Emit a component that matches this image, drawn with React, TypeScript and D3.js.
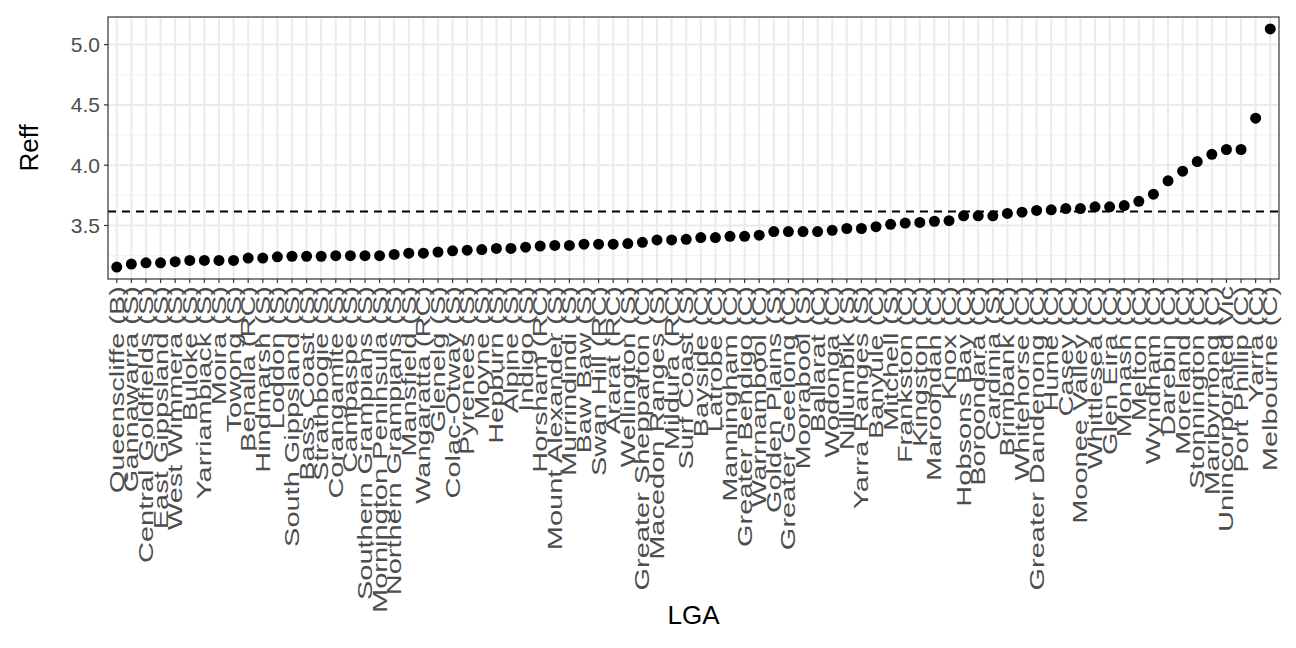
import React, { useRef, useEffect } from "react";
import * as d3 from "d3";

const lgas = [
  "Queenscliffe (B)", "Gannawarra (S)", "Central Goldfields (S)", "East Gippsland (S)",
  "West Wimmera (S)", "Buloke (S)", "Yarriambiack (S)", "Moira (S)", "Towong (S)",
  "Benalla (RC)", "Hindmarsh (S)", "Loddon (S)", "South Gippsland (S)", "Bass Coast (S)",
  "Strathbogie (S)", "Corangamite (S)", "Campaspe (S)", "Southern Grampians (S)",
  "Mornington Peninsula (S)", "Northern Grampians (S)", "Mansfield (S)", "Wangaratta (RC)",
  "Glenelg (S)", "Colac-Otway (S)", "Pyrenees (S)", "Moyne (S)", "Hepburn (S)",
  "Alpine (S)", "Indigo (S)", "Horsham (RC)", "Mount Alexander (S)", "Murrindindi (S)",
  "Baw Baw (S)", "Swan Hill (RC)", "Ararat (RC)", "Wellington (S)",
  "Greater Shepparton (C)", "Macedon Ranges (S)", "Mildura (RC)", "Surf Coast (S)",
  "Bayside (C)", "Latrobe (C)", "Manningham (C)", "Greater Bendigo (C)",
  "Warrnambool (C)", "Golden Plains (S)", "Greater Geelong (C)", "Moorabool (S)",
  "Ballarat (C)", "Wodonga (C)", "Nillumbik (S)", "Yarra Ranges (S)", "Banyule (C)",
  "Mitchell (S)", "Frankston (C)", "Kingston (C)", "Maroondah (C)", "Knox (C)",
  "Hobsons Bay (C)", "Boroondara (C)", "Cardinia (S)", "Brimbank (C)", "Whitehorse (C)",
  "Greater Dandenong (C)", "Hume (C)", "Casey (C)", "Moonee Valley (C)",
  "Whittlesea (C)", "Glen Eira (C)", "Monash (C)", "Melton (C)", "Wyndham (C)",
  "Darebin (C)", "Moreland (C)", "Stonnington (C)", "Maribyrnong (C)",
  "Unincorporated Vic", "Port Phillip (C)", "Yarra (C)", "Melbourne (C)",
];

const reff = [
  3.155, 3.18, 3.19, 3.19, 3.2, 3.21, 3.21, 3.21, 3.21, 3.23,
  3.23, 3.24, 3.245, 3.245, 3.245, 3.25, 3.25, 3.25, 3.25, 3.26,
  3.27, 3.27, 3.28, 3.29, 3.295, 3.3, 3.31, 3.31, 3.32, 3.33,
  3.335, 3.335, 3.345, 3.345, 3.345, 3.35, 3.36, 3.38, 3.38, 3.385,
  3.4, 3.4, 3.41, 3.41, 3.42, 3.45, 3.45, 3.45, 3.45, 3.46,
  3.475, 3.475, 3.49, 3.51, 3.52, 3.525, 3.535, 3.54, 3.58, 3.58,
  3.58, 3.6, 3.61, 3.625, 3.63, 3.64, 3.64, 3.655, 3.655, 3.665,
  3.7, 3.76, 3.87, 3.95, 4.03, 4.09, 4.13, 4.13, 4.39, 5.13,
];

const yTicks = [3.5, 4.0, 4.5, 5.0];
const yMinor = [3.25, 3.75, 4.25, 4.75];
const refLine = 3.615;

const App: React.FC = () => {
  const ref = useRef<SVGSVGElement | null>(null);

  useEffect(() => {
    const svg = d3.select(ref.current);
    svg.selectAll("*").remove();
    const width = 1296;
    const height = 648;
    const left = 108, right = 1279, top = 17, bottom = 279;
    const font = "Liberation Sans, Arial, sans-serif";

    const n = lgas.length;
    const x = d3.scaleLinear().domain([0.4, n + 0.6]).range([left, right]);
    const [lo, hi] = d3.extent(reff) as [number, number];
    const pad = (hi - lo) * 0.05;
    const y = d3.scaleLinear().domain([lo - pad, hi + pad]).range([bottom, top]);

    svg.attr("width", width).attr("height", height);
    svg.append("rect").attr("width", width).attr("height", height).attr("fill", "white");

    const grid = svg.append("g");
    grid.selectAll("line.ym").data(yMinor).enter().append("line")
      .attr("x1", left).attr("x2", right)
      .attr("y1", (d) => y(d)).attr("y2", (d) => y(d))
      .attr("stroke", "#f2f2f2").attr("stroke-width", 1);
    grid.selectAll("line.y").data(yTicks).enter().append("line")
      .attr("x1", left).attr("x2", right)
      .attr("y1", (d) => y(d)).attr("y2", (d) => y(d))
      .attr("stroke", "#ebebeb").attr("stroke-width", 2);
    grid.selectAll("line.x").data(lgas).enter().append("line")
      .attr("x1", (_, i) => x(i + 1)).attr("x2", (_, i) => x(i + 1))
      .attr("y1", top).attr("y2", bottom)
      .attr("stroke", "#ebebeb").attr("stroke-width", 2);

    svg.append("line")
      .attr("x1", left).attr("x2", right)
      .attr("y1", y(refLine)).attr("y2", y(refLine))
      .attr("stroke", "black").attr("stroke-width", 2)
      .attr("stroke-dasharray", "8,6");

    svg.append("g").selectAll("circle").data(reff).enter().append("circle")
      .attr("cx", (_, i) => x(i + 1)).attr("cy", (d) => y(d))
      .attr("r", 5.5).attr("fill", "black");

    svg.append("rect")
      .attr("x", left).attr("y", top)
      .attr("width", right - left).attr("height", bottom - top)
      .attr("fill", "none").attr("stroke", "#333333").attr("stroke-width", 1.2);

    // y axis
    const ya = svg.append("g");
    ya.selectAll("line").data(yTicks).enter().append("line")
      .attr("x1", left - 4).attr("x2", left)
      .attr("y1", (d) => y(d)).attr("y2", (d) => y(d))
      .attr("stroke", "#333333").attr("stroke-width", 1.2);
    ya.selectAll("text").data(yTicks).enter().append("text")
      .attr("x", left - 8).attr("y", (d) => y(d))
      .attr("dy", "0.35em").attr("text-anchor", "end")
      .attr("font-family", font).attr("font-size", 21).attr("fill", "#4d4d4d")
      .text((d) => d.toFixed(1));

    // x axis
    const xa = svg.append("g");
    xa.selectAll("line").data(lgas).enter().append("line")
      .attr("x1", (_, i) => x(i + 1)).attr("x2", (_, i) => x(i + 1))
      .attr("y1", bottom).attr("y2", bottom + 4)
      .attr("stroke", "#333333").attr("stroke-width", 1.2);
    xa.selectAll("text").data(lgas).enter().append("text")
      .attr("transform", (_, i) => `translate(${x(i + 1)},${bottom + 7}) rotate(-90) scale(1.45,1)`)
      .attr("dy", "0.35em").attr("text-anchor", "end")
      .attr("font-family", font).attr("font-size", 20).attr("fill", "#4d4d4d")
      .text((d) => d);

    svg.append("text")
      .attr("transform", `translate(38,${(top + bottom) / 2}) rotate(-90)`)
      .attr("text-anchor", "middle")
      .attr("font-family", font).attr("font-size", 26).attr("fill", "black")
      .text("Reff");
    svg.append("text")
      .attr("x", (left + right) / 2).attr("y", 624)
      .attr("text-anchor", "middle")
      .attr("font-family", font).attr("font-size", 26).attr("fill", "black")
      .text("LGA");
  }, []);

  return <svg ref={ref} style={{ position: "absolute", left: 0, top: 0 }} />;
};

export default App;
